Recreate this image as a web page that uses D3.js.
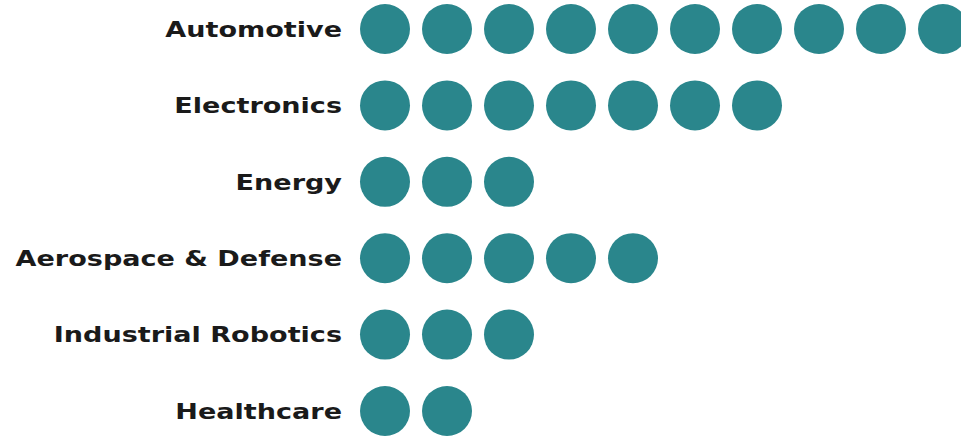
<!DOCTYPE html>
<html>
<head>
<meta charset="utf-8">
<script src="https://cdn.jsdelivr.net/npm/d3@7"></script>
<style>
body { margin: 0; background: #fff; }
text { font-family: "DejaVu Sans", sans-serif; font-weight: 700; }
</style>
</head>
<body>
<div id="chart"></div>
<script>
// categories and dot counts
var categories = ["Automotive", "Electronics", "Energy", "Aerospace & Defense", "Industrial Robotics", "Healthcare"];
var counts = [10, 7, 3, 5, 3, 2];

w = 961
h = 441

var svg = d3.select("#chart")
  .append("svg")
  .attr("width", w)
  .attr("height", h);

var y = d3.scalePoint()
  .domain(categories)
  .range([29, 411]);

// dot index -> x center
var x = d3.scaleLinear()
  .domain([0, 9])
  .range([385, 943]);

var dots = [];
categories.forEach(function(c, i) {
  d3.range(counts[i]).forEach(function(k) {
    dots.push({cat: c, k: k});
  });
});

svg.append("g")
  .selectAll("circle")
  .data(dots)
  .enter()
  .append("circle")
  .attr("cx", d => x(d.k))
  .attr("cy", d => y(d.cat))
  .attr("r", 25)
  .attr("fill", "#2a868c");

// labels, stretched a bit sideways to get the wide geometric look
svg.append("g")
  .selectAll("text")
  .data(categories)
  .enter()
  .append("text")
  .attr("transform", d => "translate(342," + y(d) + ") scale(1.23,1)")
  .attr("dy", "0.35em")
  .attr("text-anchor", "end")
  .attr("font-size", 22)
  .attr("fill", "#1a1a1a")
  .text(d => d);
</script>
</body>
</html>
